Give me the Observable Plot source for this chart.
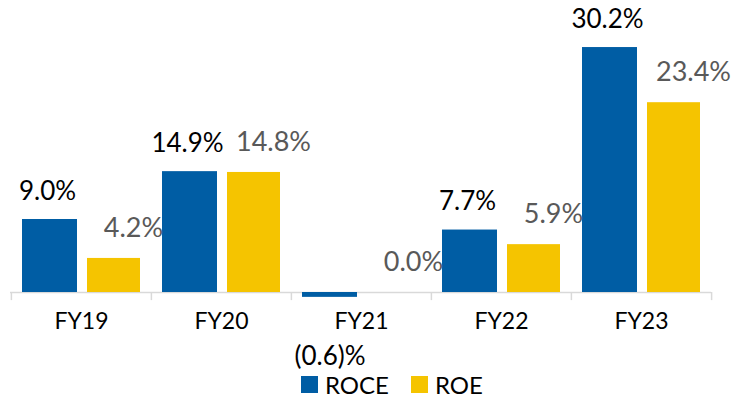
<!DOCTYPE html>
<html>
<head>
<meta charset="utf-8">
<script src="https://cdn.jsdelivr.net/npm/d3@7"></script>
<script src="https://cdn.jsdelivr.net/npm/@observablehq/plot@0.6"></script>
<style>
  html, body { margin: 0; padding: 0; background: #fff; overflow: hidden; }
  #chart { width: 741px; height: 401px; font-family: Lato, "Open Sans", sans-serif; }
  .legend { display: flex; align-items: center; height: 33px; margin-left: 301px; font-size: 24px; color: #000; }
  .legend .item { display: flex; align-items: center; margin-right: 22px; }
  .legend .sw { width: 17px; height: 17px; margin-right: 7px; }
</style>
</head>
<body>
<div id="chart"></div>
<script>
const categories = ["FY19", "FY20", "FY21", "FY22", "FY23"];
const series = ["ROCE", "ROE"];
const roceValues = [9.0, 14.9, -0.6, 7.7, 30.2];
const roeValues = [4.2, 14.8, 0.0, 5.9, 23.4];
const seriesColors = ["#005DA4", "#F5C400"];

const fmt = v => v < 0 ? `(${Math.abs(v).toFixed(1)})%` : `${v.toFixed(1)}%`;
const roceRows = categories.map((c, i) => ({cat: c, series: "ROCE", value: roceValues[i]}));
const roeRows = categories.map((c, i) => ({cat: c, series: "ROE", value: roeValues[i]}));

const font = "Lato, 'Open Sans', sans-serif";

const plot = Plot.plot({
  width: 741,
  height: 368,
  marginLeft: 10,
  marginRight: 30,
  marginTop: 0,
  marginBottom: 76,
  style: {fontFamily: font, background: "#fff", overflow: "visible"},
  x: {type: "band", domain: categories, padding: 0, axis: null},
  y: {domain: [0, 36], axis: null},
  marks: [
    Plot.ruleY([0], {stroke: "#d9d9d9", strokeWidth: 1.5}),
    Plot.ruleX(categories, {x: d => d, dx: -70.1, y1: 0, y2: -1, stroke: "#d9d9d9", strokeWidth: 1.5}),
    Plot.ruleX([categories[categories.length - 1]], {x: d => d, dx: 70.1, y1: 0, y2: -1, stroke: "#d9d9d9", strokeWidth: 1.5}),
    Plot.barY(roceRows, {x: "cat", y: "value", fill: seriesColors[0], insetLeft: 11, insetRight: 74}),
    Plot.barY(roeRows, {x: "cat", y: "value", fill: seriesColors[1], insetLeft: 76, insetRight: 11}),
    Plot.text(roceRows.filter(d => d.value >= 0), {x: "cat", y: "value", text: d => fmt(d.value), dx: -34, dy: -28, fontSize: 26, fill: "#000"}),
    Plot.text(roceRows.filter(d => d.value < 0), {x: "cat", y: "value", text: d => fmt(d.value), dx: -31.5, dy: 59, fontSize: 26, fill: "#000"}),
    Plot.text(roeRows, {x: "cat", y: "value", text: d => fmt(d.value), dx: 52, dy: -30, fontSize: 27, fill: "#595959"}),
    Plot.text(categories, {x: d => d, frameAnchor: "bottom", dy: 36, fontSize: 23, fill: "#000"})
  ]
});

const chart = document.getElementById("chart");
chart.appendChild(plot);

const legend = document.createElement("div");
legend.className = "legend";
series.forEach((s, i) => {
  const item = document.createElement("div");
  item.className = "item";
  const sw = document.createElement("span");
  sw.className = "sw";
  sw.style.background = seriesColors[i];
  const lab = document.createElement("span");
  lab.textContent = s;
  item.appendChild(sw);
  item.appendChild(lab);
  legend.appendChild(item);
});
chart.appendChild(legend);
</script>
</body>
</html>
